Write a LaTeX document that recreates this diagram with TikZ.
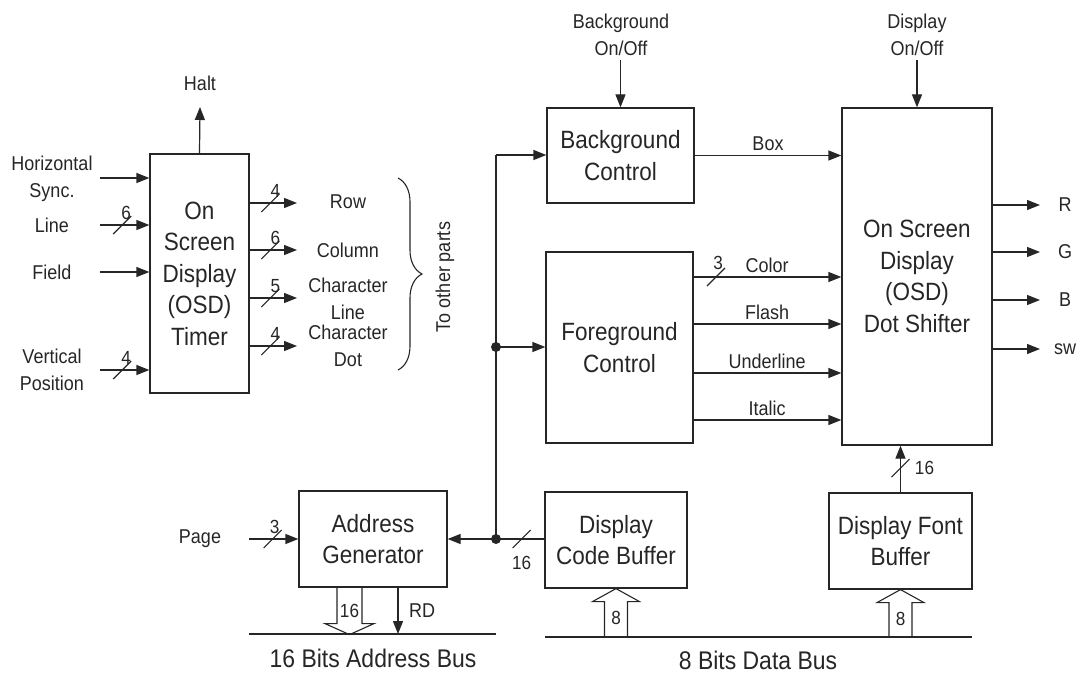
\documentclass[tikz,border=0pt]{standalone}
\usepackage{fontspec}
\setmainfont[FakeStretch=0.9]{Liberation Sans}
\usetikzlibrary{arrows.meta,calc,decorations.pathreplacing}
\newcommand\busslash[1]{\draw[thin line] ($(#1)+(-9,9)$) -- ($(#1)+(9,-9)$);}
\newcommand\fatup[2]{\draw[thin line] ($(#1)+(-11.5,#2)$) -- ($(#1)+(-11.5,13)$) -- ($(#1)+(-23.5,13)$) -- (#1) -- ($(#1)+(23.5,13)$) -- ($(#1)+(11.5,13)$) -- ($(#1)+(11.5,#2)$);}
\begin{document}
\begin{tikzpicture}[x=1pt,y=-1pt,line width=1.2pt,color={black!85},
  thin line/.style={line width=1.1pt},
  box/.style={draw,inner sep=0pt,align=center,font=\fontsize{25}{31.5}\selectfont},
  lbl/.style={inner sep=0pt,align=center,font=\fontsize{20}{27}\selectfont},
  num/.style={inner sep=0pt,font=\fontsize{19}{20}\selectfont},
  buslbl/.style={inner sep=0pt,font=\fontsize{25.5}{28}\selectfont},
  arr/.style={-{Triangle[length=13pt,width=10pt]}},
  dot/.style={circle,fill,inner sep=0pt,minimum size=10pt}]
\useasboundingbox (0,0) rectangle (1085,682);

% ---------- boxes ----------
\node[box,minimum width=99pt,minimum height=239pt] (timer) at (199.5,273.5) {On\\Screen\\Display\\(OSD)\\Timer};
\node[box,minimum width=147pt,minimum height=95pt] (bgc) at (620.5,155.5) {Background\\Control};
\node[box,minimum width=147pt,minimum height=191pt] (fgc) at (619.5,347.5) {Foreground\\Control};
\node[box,minimum width=150pt,minimum height=337pt] (dsh) at (917,276.5) {On Screen\\Display\\(OSD)\\Dot Shifter};
\node[box,minimum width=148pt,minimum height=96pt] (addr) at (373,539) {Address\\Generator};
\node[box,minimum width=142pt,minimum height=96pt] (code) at (616,540) {Display\\Code Buffer};
\node[box,minimum width=143pt,minimum height=96pt] (font) at (900.5,541) {Display Font\\Buffer};

% ---------- timer inputs ----------
\node[lbl] (hsl) at (52,179) {Horizontal\\Sync.};
\node[lbl] (lnl) at (52,225) {Line};
\node[lbl] (fdl) at (52,272) {Field};
\node[lbl] (vpl) at (52,370) {Vertical\\Position};
\coordinate (hs) at (100,178);
\coordinate (ln) at (100,225);
\coordinate (fd) at (100,272);
\coordinate (vp) at (100,370);
\draw[arr] (hs) -- (hs -| timer.west);
\draw[arr] (ln) -- coordinate[pos=.45] (sln) (ln -| timer.west);
\draw[arr] (fd) -- (fd -| timer.west);
\draw[arr] (vp) -- coordinate[pos=.45] (svp) (vp -| timer.west);
\busslash{sln} \node[num] (nln) at ($(sln)+(4,-12)$) {6};
\busslash{svp} \node[num] (nvp) at ($(svp)+(4,-12)$) {4};

% Halt
\node[lbl] (halt) at (200,83) {Halt};
\coordinate (ht) at (200,107);
\draw[arr] (timer.north) -- (ht);

% ---------- timer outputs ----------
\coordinate (o1) at (297,203);
\coordinate (o2) at (297,250);
\coordinate (o3) at (297,298);
\coordinate (o4) at (297,346);
\draw[arr] (o1 -| timer.east) -- coordinate[pos=.44] (so1) (o1);
\draw[arr] (o2 -| timer.east) -- coordinate[pos=.44] (so2) (o2);
\draw[arr] (o3 -| timer.east) -- coordinate[pos=.44] (so3) (o3);
\draw[arr] (o4 -| timer.east) -- coordinate[pos=.44] (so4) (o4);
\busslash{so1} \node[num] (no1) at ($(so1)+(5,-12)$) {4};
\busslash{so2} \node[num] (no2) at ($(so2)+(5,-12)$) {6};
\busslash{so3} \node[num] (no3) at ($(so3)+(5,-12)$) {5};
\busslash{so4} \node[num] (no4) at ($(so4)+(5,-12)$) {4};
\node[lbl] (row) at (348,202) {Row};
\node[lbl] (col) at (348,250) {Column};
\node[lbl] (chl) at (348,299) {Character\\Line};
\node[lbl] (chd) at (348,346) {Character\\Dot};
\coordinate (bt) at (398,178);
\coordinate (bb) at (398,370);
\draw[line width=1.1pt,decorate,decoration={brace,amplitude=24pt,aspect=0.5}] (bt) -- (bb);
\node[lbl,rotate=90] (top) at (445,277) {To other parts};

% ---------- central bus ----------
\node[dot] (j1) at (496,347) {};
\node[dot] (j2) at (496,539) {};
\coordinate (vtop) at (496,155);
\draw (j2.center) -- (vtop);
\draw[arr] (vtop) -- (vtop -| bgc.west);
\draw[arr] (j1.center) -- (j1 -| fgc.west);
\draw[arr] (code.west |- j2) -- coordinate[pos=.235] (s16) (j2 -| addr.east);
\busslash{s16} \node[num] (n16) at ($(s16)+(0,24)$) {16};

% Page
\node[lbl] (page) at (200,539) {Page};
\coordinate (pg) at (249,539);
\draw[arr] (pg) -- coordinate[pos=.48] (spg) (pg -| addr.west);
\busslash{spg} \node[num] (npg) at ($(spg)+(2,-12)$) {3};

% Background on/off
\node[lbl] (bgon) at (621,35) {Background\\On/Off};
\coordinate (bgs) at (620.5,60);
\draw[arr] (bgs) -- (bgc.north);
\node[lbl] (dson) at (917,35) {Display\\On/Off};
\coordinate (dss) at (917,60);
\draw[arr] (dss) -- (dsh.north);

% Box
\draw[arr] (bgc.east) -- node[lbl,above=4pt] (boxl) {Box} (bgc.east -| dsh.west);

% Foreground outputs
\coordinate (f1) at (693,277);
\coordinate (f2) at (693,324);
\coordinate (f3) at (693,373);
\coordinate (f4) at (693,420);
\draw[arr] (f1) -- coordinate[pos=.155] (sf1) node[lbl,above=4pt,pos=.5] (colr) {Color} (f1 -| dsh.west);
\draw[arr] (f2) -- node[lbl,above=4pt] (flash) {Flash} (f2 -| dsh.west);
\draw[arr] (f3) -- node[lbl,above=4pt] (undl) {Underline} (f3 -| dsh.west);
\draw[arr] (f4) -- node[lbl,above=4pt] (ital) {Italic} (f4 -| dsh.west);
\busslash{sf1} \node[num] (nf1) at ($(sf1)+(2,-14)$) {3};

% RGB outputs
\coordinate (oR) at (1040,205);
\coordinate (oG) at (1040,252);
\coordinate (oB) at (1040,300);
\coordinate (oS) at (1040,349);
\draw[arr] (oR -| dsh.east) -- (oR);
\draw[arr] (oG -| dsh.east) -- (oG);
\draw[arr] (oB -| dsh.east) -- (oB);
\draw[arr] (oS -| dsh.east) -- (oS);
\node[lbl] (lR) at (1065,205) {R};
\node[lbl] (lG) at (1065,252) {G};
\node[lbl] (lB) at (1065,300) {B};
\node[lbl] (lS) at (1065,349) {sw};

% font buffer to dot shifter
\draw[arr] (font.north) -- coordinate[pos=.52] (sfb) (font.north |- dsh.south);
\busslash{sfb} \node[num] (nfb) at ($(sfb)+(24,0)$) {16};

% ---------- address bus ----------
\coordinate (ab1) at (249,634);
\coordinate (ab2) at (496,634);
\draw[thin line] (ab1) -- (ab2);
\coordinate (fa) at ($(addr.south)+(-23.5,0)$);
\draw[thin line] (fa) ++(-12.5,0) -- ++(0,36) -- ++(-12,0) -- ($(fa)+(0,47)$) -- ($(fa)+(24.5,36)$) -- ($(fa)+(12.5,36)$) -- ($(fa)+(12.5,0)$);
\node[num] (n16a) at ($(fa)+(0,23)$) {16};
\coordinate (rd) at ($(addr.south)+(25,0)$);
\draw[arr] (rd) -- (rd |- ab1);
\node[lbl] (rdl) at (422,611) {RD};
\node[buslbl] (abl) at (373,658) {16 Bits Address Bus};

% ---------- data bus ----------
\coordinate (db1) at (545,637);
\coordinate (db2) at (972,637);
\draw[thin line] (db1) -- (db2);
\coordinate (cs) at (code.south);
\coordinate (fs) at (font.south);
\fatup{cs}{49}
\fatup{fs}{48}
\node[num] (n8a) at ($(cs)+(0,29)$) {8};
\node[num] (n8b) at ($(fs)+(0,29)$) {8};
\node[buslbl] (dbl) at (758,660) {8 Bits Data Bus};
\end{tikzpicture}
\end{document}
